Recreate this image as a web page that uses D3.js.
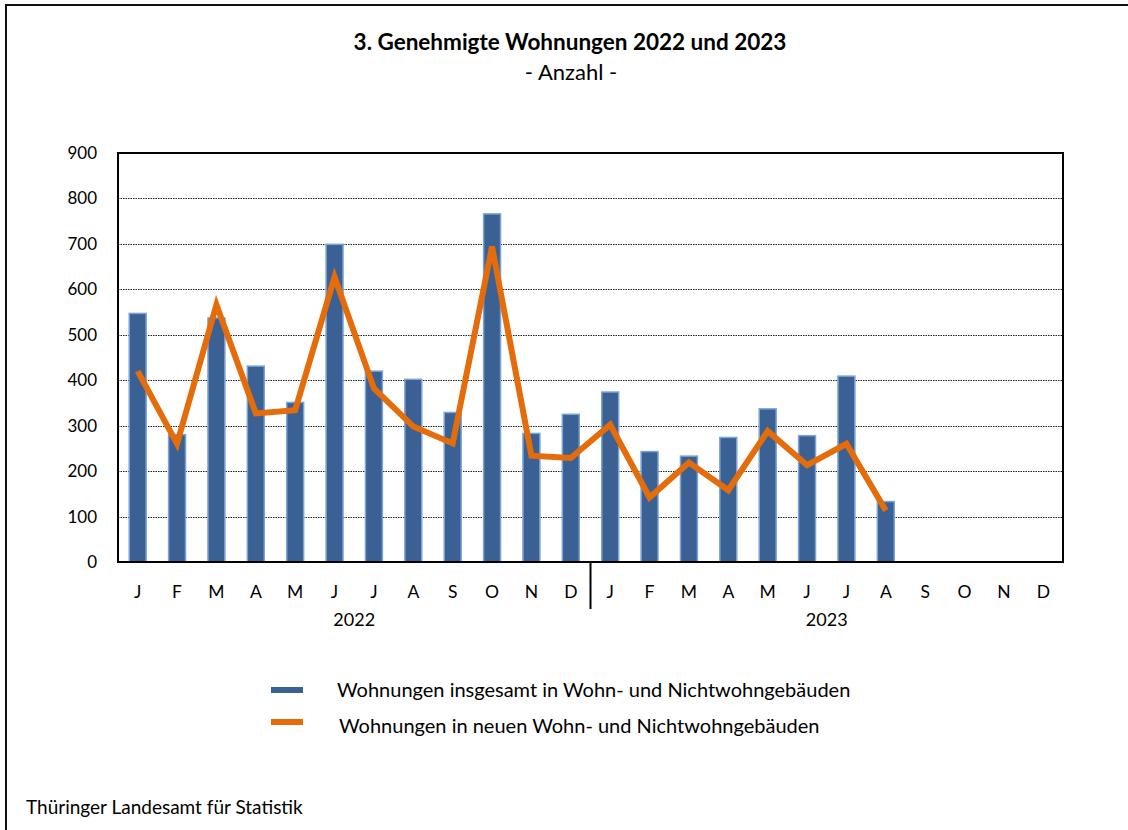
<!DOCTYPE html>
<html lang="de">
<head>
<meta charset="utf-8">
<script src="https://d3js.org/d3.v7.min.js"></script>
<style>
  body { margin: 0; background: #fff; }
  svg { display: block; font-family: Lato, "Open Sans", sans-serif; }
</style>
</head>
<body>
<script>
    // monthly values
    const months = ['J', 'F', 'M', 'A', 'M', 'J', 'J', 'A', 'S', 'O', 'N', 'D'];
    const years = ['2022', '2023'];
    const totalFlats = [547, 280, 537, 431, 351, 699, 420, 402, 329, 766, 283, 325,
                        374, 243, 233, 274, 337, 278, 409, 133, null, null, null, null];
    const newFlats = [420, 260, 566, 327, 334, 627, 382, 298, 261, 694, 234, 229,
                      302, 142, 219, 158, 288, 213, 260, 113, null, null, null, null];
    const yTicks = [0, 100, 200, 300, 400, 500, 600, 700, 800, 900];
    const seriesNames = ['Wohnungen insgesamt in Wohn- und Nichtwohngebäuden',
                         'Wohnungen in neuen Wohn- und Nichtwohngebäuden'];

    const W = 1128, H = 830;
    const margin = { top: 153, right: 65, bottom: 268, left: 118 };
    const w = W - margin.left - margin.right;
    const h = H - margin.top - margin.bottom;

    const barColor = '#3b6194';
    const barEdge = '#7aa3d6';
    const lineColor = '#e46c0a';

    // one key per month slot
    const keys = d3.range(years.length * months.length);

    const svg = d3.select('body').append('svg')
        .attr('width', W)
        .attr('height', H);

    // outer frame (runs off the right and bottom)
    svg.append('path')
        .attr('d', 'M6,' + (H + 5) + 'V5H' + (W + 5))
        .attr('fill', 'none')
        .attr('stroke', '#111')
        .attr('stroke-width', 2);

    svg.append('text')
        .attr('x', 570).attr('y', 50)
        .attr('text-anchor', 'middle')
        .attr('font-weight', 'bold')
        .attr('font-size', 22.5)
        .text('3. Genehmigte Wohnungen 2022 und 2023');
    svg.append('text')
        .attr('x', 571).attr('y', 80)
        .attr('text-anchor', 'middle')
        .attr('font-size', 22)
        .text('- Anzahl -');

    const g = svg.append('g')
        .attr('transform', 'translate(' + margin.left + ',' + margin.top + ')');

    const x = d3.scaleBand()
        .domain(keys)
        .range([0, w])
        .paddingInner(0.57)
        .paddingOuter(0.285);

    const xc = d3.scaleBand().domain(keys).range([0, w]);

    const y = d3.scaleLinear()
        .domain([0, 900])
        .range([h, 0]);

    // gridlines
    g.append('g')
        .selectAll('line')
        .data(yTicks.slice(1, -1))
        .join('line')
        .attr('x1', 0).attr('x2', w)
        .attr('y1', d => Math.round(y(d)) + 0.5)
        .attr('y2', d => Math.round(y(d)) + 0.5)
        .attr('stroke', '#222')
        .attr('stroke-width', 1)
        .attr('stroke-dasharray', '1.5,1');

    // y axis labels
    const yAxis = d3.axisLeft(y).tickValues(yTicks).tickSize(0).tickPadding(21);
    g.append('g')
        .call(yAxis)
        .call(a => a.select('.domain').remove())
        .selectAll('text')
        .attr('font-size', 17)
        .attr('font-family', 'Lato, sans-serif')
        .attr('fill', '#000');

    // bars
    g.append('g')
        .selectAll('rect')
        .data(keys.filter(k => totalFlats[k] != null))
        .join('rect')
        .attr('x', k => x(k))
        .attr('y', k => y(totalFlats[k]))
        .attr('width', x.bandwidth())
        .attr('height', k => h - y(totalFlats[k]))
        .attr('fill', barColor)
        .attr('stroke', barEdge)
        .attr('stroke-width', 1.5);

    // line
    const line = d3.line()
        .defined(k => newFlats[k] != null)
        .x(k => xc(k) + xc.bandwidth() / 2)
        .y(k => y(newFlats[k]));

    g.append('path')
        .datum(keys)
        .attr('d', line)
        .attr('fill', 'none')
        .attr('stroke', lineColor)
        .attr('stroke-width', 6)
        .attr('stroke-linejoin', 'miter');

    // plot frame
    g.append('rect')
        .attr('x', 0).attr('y', 0)
        .attr('width', w).attr('height', h)
        .attr('fill', 'none')
        .attr('stroke', '#000')
        .attr('stroke-width', 2);

    // month labels
    const xAxis = d3.axisBottom(xc)
        .tickSize(0)
        .tickPadding(24)
        .tickFormat(k => months[k % 12]);
    g.append('g')
        .attr('transform', 'translate(0,' + h + ')')
        .call(xAxis)
        .call(a => a.select('.domain').remove())
        .selectAll('text')
        .attr('font-size', 17.5)
        .attr('font-family', 'Lato, sans-serif')
        .attr('fill', '#000');

    // year separator and year labels
    g.append('line')
        .attr('x1', xc(12)).attr('x2', xc(12))
        .attr('y1', h).attr('y2', h + 47)
        .attr('stroke', '#000')
        .attr('stroke-width', 2);

    g.append('g')
        .selectAll('text')
        .data(years)
        .join('text')
        .attr('x', (d, i) => (xc(i * 12 + 5) + xc(i * 12 + 6) + xc.bandwidth()) / 2)
        .attr('y', h + 64)
        .attr('text-anchor', 'middle')
        .attr('font-size', 18)
        .text(d => d);

    // legend
    const legend = svg.append('g');
    const legendRows = [
        { name: seriesNames[0], color: barColor, tx: 337, y: 690 },
        { name: seriesNames[1], color: lineColor, tx: 339, y: 722 }
    ];
    legend.selectAll('rect')
        .data(legendRows)
        .join('rect')
        .attr('x', 271).attr('y', d => d.y - 3)
        .attr('width', 32).attr('height', 6)
        .attr('fill', d => d.color);
    legend.selectAll('text')
        .data(legendRows)
        .join('text')
        .attr('x', d => d.tx).attr('y', (d, i) => i ? 733 : 697)
        .attr('font-size', 20)
        .text(d => d.name);

    svg.append('text')
        .attr('x', 26).attr('y', 814)
        .attr('font-size', 19)
        .text('Thüringer Landesamt für Statistik');
</script>
</body>
</html>
